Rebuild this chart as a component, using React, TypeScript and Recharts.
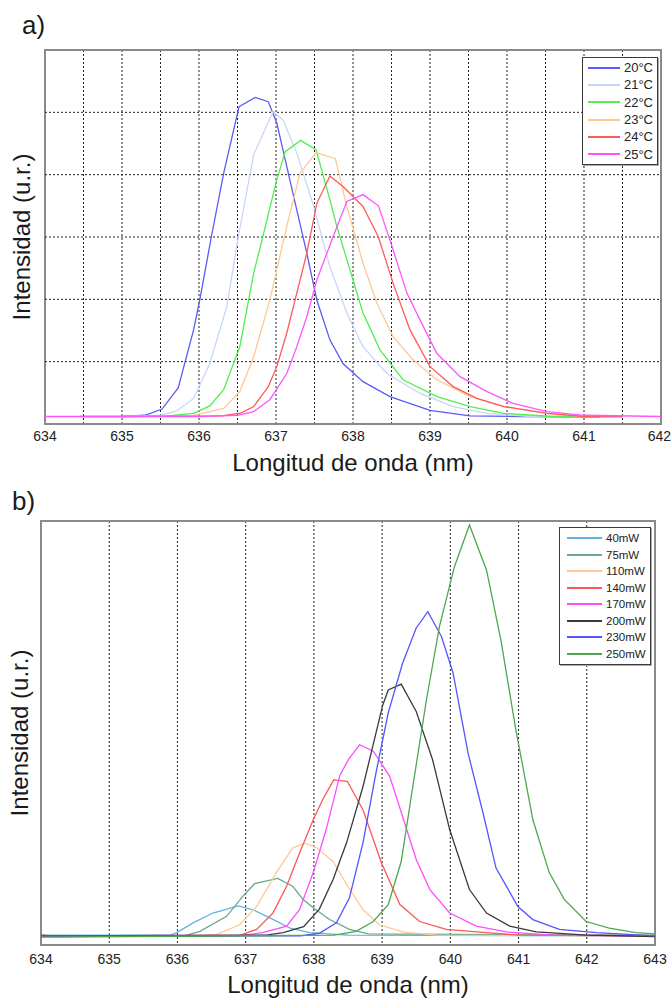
import React from 'react';
import { LineChart, Line, XAxis, YAxis, CartesianGrid, Legend, ReferenceArea, ReferenceLine } from 'recharts';

type P = { x: number; y: number };
const pts = (a: number[][]): P[] => a.map(([x, y]) => ({ x, y }));

// ---------- Panel a: temperature series (wavelength nm, intensity a.u.) ----------
const tempNames = ['20°C', '21°C', '22°C', '23°C', '24°C', '25°C'];
const tempColors = ['#5b5bf5', '#c6d6fa', '#50ee50', '#ffc895', '#ff5a5a', '#ff55ff'];

const t20 = pts([[634.45,0.12],[635.0,0.12],[635.3,0.14],[635.52,0.24],[635.73,0.58],[635.82,1.0],[635.93,1.51],[636.01,1.99],[636.16,3.0],[636.32,4.02],[636.52,5.09],[636.73,5.24],[636.9,5.17],[637.01,4.83],[637.22,3.7],[637.4,2.74],[637.53,1.99],[637.7,1.35],[637.87,0.97],[638.13,0.68],[638.48,0.44],[639.0,0.22],[639.52,0.13],[640.2,0.12],[641.2,0.11]]);
const t21 = pts([[635.0,0.12],[635.5,0.14],[635.71,0.21],[635.93,0.41],[636.14,0.97],[636.36,1.88],[636.51,3.0],[636.71,4.32],[636.96,5.01],[637.09,4.88],[637.27,4.35],[637.49,3.49],[637.7,2.52],[637.92,1.78],[638.13,1.24],[638.44,0.81],[638.87,0.49],[639.3,0.28],[639.74,0.17],[640.3,0.12],[641.5,0.12]]);
const t22 = pts([[635.0,0.12],[635.6,0.13],[635.93,0.17],[636.14,0.29],[636.32,0.55],[636.53,1.24],[636.71,2.42],[636.84,3.06],[637.01,3.92],[637.12,4.37],[637.32,4.55],[637.52,4.4],[637.7,3.6],[637.79,3.17],[638.0,2.31],[638.13,1.78],[638.35,1.19],[638.65,0.71],[639.09,0.44],[639.52,0.28],[639.96,0.17],[640.6,0.12],[641.5,0.12]]);
const t23 = pts([[635.0,0.12],[635.9,0.13],[636.32,0.25],[636.53,0.52],[636.71,1.08],[636.92,1.99],[637.14,3.17],[637.31,4.02],[637.52,4.35],[637.77,4.26],[637.92,3.49],[638.13,2.58],[638.31,1.94],[638.52,1.4],[638.78,1.03],[639.09,0.71],[639.52,0.44],[639.96,0.28],[640.52,0.17],[641.0,0.12],[641.5,0.12]]);
const t24 = pts([[635.0,0.12],[636.3,0.13],[636.55,0.18],[636.71,0.28],[636.9,0.6],[637.01,0.92],[637.14,1.46],[637.27,2.1],[637.4,2.74],[637.53,3.54],[637.7,3.98],[637.87,3.81],[638.13,3.49],[638.33,3.0],[638.52,2.26],[638.74,1.51],[639.0,0.92],[639.3,0.6],[639.61,0.41],[639.96,0.28],[640.52,0.17],[641.0,0.12],[641.5,0.12]]);
const t25 = pts([[634.0,0.12],[636.0,0.12],[636.5,0.14],[636.71,0.2],[636.92,0.39],[637.14,0.81],[637.27,1.24],[637.4,1.72],[637.53,2.31],[637.74,3.0],[637.92,3.57],[638.13,3.68],[638.33,3.5],[638.48,2.95],[638.7,2.1],[638.87,1.67],[639.09,1.13],[639.39,0.76],[639.74,0.52],[640.08,0.33],[640.52,0.2],[641.0,0.14],[642.0,0.12]]);
const tempSeries = [t20, t21, t22, t23, t24, t25];

const xTicksA = [634, 634.5, 635, 635.5, 636, 636.5, 637, 637.5, 638, 638.5, 639, 639.5, 640, 640.5, 641, 641.5, 642];
const xLabelsA = ['634', '635', '636', '637', '638', '639', '640', '641', '642'];
const yTicksA = [0, 1, 2, 3, 4, 5, 6];
const yGridA = [1, 2, 3, 4, 5];

// ---------- Panel b: pump power series ----------
const powNames = ['40mW', '75mW', '110mW', '140mW', '170mW', '200mW', '230mW', '250mW'];
const powColors = ['#63b3e0', '#67a88e', '#ffc896', '#ff5555', '#ff4cff', '#3a3a3a', '#5555ff', '#4ea84e'];

const p40 = pts([[634,0.15],[635.9,0.15],[635.99,0.19],[636.23,0.34],[636.52,0.49],[636.89,0.6],[637.11,0.54],[637.35,0.42],[637.65,0.26],[637.94,0.19],[638.5,0.15],[643,0.14]]);
const p75 = pts([[634,0.13],[636.1,0.14],[636.33,0.21],[636.72,0.44],[636.96,0.75],[637.13,0.94],[637.47,1.02],[637.69,0.9],[637.84,0.7],[637.99,0.57],[638.23,0.39],[638.52,0.24],[638.8,0.17],[643,0.15]]);
const p110 = pts([[634,0.14],[636.3,0.14],[636.57,0.16],[636.91,0.31],[637.16,0.59],[637.45,1.11],[637.69,1.49],[637.87,1.56],[638.04,1.49],[638.28,1.28],[638.48,0.93],[638.72,0.54],[638.96,0.31],[639.3,0.2],[639.8,0.15],[643,0.14]]);
const p140 = pts([[634,0.16],[634.2,0.13],[636.9,0.14],[637.16,0.24],[637.4,0.49],[637.6,0.9],[637.79,1.41],[637.99,1.92],[638.13,2.23],[638.29,2.53],[638.49,2.51],[638.72,2.07],[638.99,1.26],[639.26,0.62],[639.55,0.36],[639.94,0.24],[640.53,0.19],[641.0,0.15],[643,0.14]]);
const p170 = pts([[634,0.14],[637.0,0.15],[637.25,0.19],[637.6,0.29],[637.79,0.54],[637.99,1.11],[638.18,1.77],[638.38,2.6],[638.51,2.85],[638.67,3.07],[638.87,2.97],[639.11,2.59],[639.3,1.97],[639.5,1.31],[639.7,0.85],[639.99,0.49],[640.38,0.29],[640.82,0.2],[641.5,0.15],[643,0.14]]);
const p200 = pts([[634,0.14],[637.3,0.15],[637.55,0.19],[637.85,0.28],[638.08,0.55],[638.28,1.0],[638.48,1.57],[638.72,2.43],[639.01,3.68],[639.09,3.91],[639.28,4.0],[639.5,3.58],[639.74,2.84],[639.99,1.77],[640.28,0.85],[640.53,0.49],[640.87,0.29],[641.26,0.2],[642.0,0.15],[643,0.13]]);
const p230 = pts([[634,0.14],[637.8,0.14],[638.08,0.18],[638.33,0.34],[638.52,0.72],[638.72,1.57],[638.91,2.64],[639.09,3.56],[639.3,4.32],[639.5,4.86],[639.67,5.11],[639.87,4.73],[640.04,4.17],[640.26,2.94],[640.48,2.02],[640.67,1.18],[640.99,0.59],[641.21,0.39],[641.6,0.24],[642.14,0.19],[643,0.14]]);
const p250 = pts([[634,0.12],[638.3,0.15],[638.62,0.21],[638.87,0.36],[639.09,0.62],[639.28,1.28],[639.45,2.43],[639.65,3.76],[639.84,4.88],[640.06,5.8],[640.28,6.44],[640.53,5.75],[640.74,4.68],[640.96,3.3],[641.21,1.92],[641.45,1.11],[641.67,0.7],[641.99,0.36],[642.33,0.26],[642.72,0.19],[643,0.17]]);
const powSeries = [p40, p75, p110, p140, p170, p200, p230, p250];

const xTicksB = [634, 635, 636, 637, 638, 639, 640, 641, 642, 643];
const yTicksB = [1, 2, 3, 4, 5, 6];

const FONT = "'Liberation Sans', Arial, sans-serif";

const EmptyTick = () => <g />;

// x tick label for panel a: only integer labels, last one kept inside the page
const TickA = (props: any) => {
  const { x, y, payload } = props;
  const label = String(payload.value);
  if (!xLabelsA.includes(label)) return <g />;
  const last = payload.value === xTicksA[xTicksA.length - 1];
  return (
    <text
      x={last ? x + 10 : x}
      y={y}
      dy="0.71em"
      textAnchor={last ? 'end' : 'middle'}
      fontSize={14}
      fill="#222"
      fontFamily={FONT}
    >
      {label}
    </text>
  );
};

const makeLegend = (order: string[], lineW: number, fontSize: number, rowH: number, padL: number, padT: number) =>
  (props: any) => {
    const payload = [...(props.payload || [])].sort(
      (a: any, b: any) => order.indexOf(String(a.value)) - order.indexOf(String(b.value))
    );
    return (
      <div
        style={{
          border: '1px solid #3a3a3a',
          boxShadow: '1px 1px 0 #aaa',
          background: '#fff',
          padding: `${padT}px 4px ${padT}px ${padL}px`,
          fontFamily: FONT,
          fontSize,
          color: '#222',
        }}
      >
        {payload.map((p: any, i: number) => (
          <div key={i} style={{ display: 'flex', alignItems: 'center', height: rowH, whiteSpace: 'nowrap' }}>
            <span style={{ display: 'inline-block', width: lineW, height: 2, background: p.color, marginRight: 4 }} />
            <span>{p.value}</span>
          </div>
        ))}
      </div>
    );
  };

const LegendA = makeLegend(tempNames, 32, 13, 17.3, 5, 1);
const LegendB = makeLegend(powNames, 35, 11.5, 16.5, 7, 2);

const absText = (style: React.CSSProperties): React.CSSProperties => ({
  position: 'absolute',
  fontFamily: FONT,
  color: '#1a1a1a',
  lineHeight: 1,
  whiteSpace: 'nowrap',
  ...style,
});

export default function App() {
  return (
    <div style={{ position: 'absolute', left: 0, top: 0, width: 671, height: 998, background: '#fff' }}>
      {/* Panel a */}
      <div style={{ position: 'absolute', left: 0, top: 0 }}>
        <LineChart width={671} height={480} margin={{ top: 50, right: 10, bottom: 26, left: 45 }}>
          <CartesianGrid stroke="#222" strokeDasharray="2 2" strokeWidth={1} horizontal={false} />
          {yGridA.map((v) => (
            <ReferenceLine key={v} y={v} stroke="#222" strokeDasharray="2 2" strokeWidth={1} />
          ))}
          <XAxis
            type="number"
            dataKey="x"
            domain={[634, 642]}
            ticks={xTicksA}
            allowDataOverflow
            interval={0}
            height={30}
            tickLine={false}
            tickSize={6}
            tickMargin={1}
            axisLine={{ stroke: '#8a8a8a', strokeWidth: 2 }}
            tick={TickA}
          />
          <YAxis
            type="number"
            domain={[0, 6]}
            ticks={yTicksA}
            width={0}
            tick={EmptyTick}
            tickLine={false}
            axisLine={{ stroke: '#8a8a8a', strokeWidth: 2 }}
            allowDataOverflow
          />
          <YAxis
            yAxisId="r"
            orientation="right"
            type="number"
            domain={[0, 6]}
            ticks={yGridA}
            width={0}
            mirror
            tick={EmptyTick}
            tickSize={5}
            tickLine={{ stroke: '#333' }}
            axisLine={false}
          />
          <ReferenceArea x1={634} x2={642} y1={0} y2={6} fill="none" stroke="#8a8a8a" strokeWidth={2} />
          {tempSeries.map((s, i) => (
            <Line
              key={tempNames[i]}
              data={s}
              dataKey="y"
              name={tempNames[i]}
              type="linear"
              stroke={tempColors[i]}
              strokeWidth={1.3}
              dot={false}
              activeDot={false}
              isAnimationActive={false}
            />
          ))}
          <Legend
            layout="vertical"
            align="center"
            verticalAlign="middle"
            content={LegendA}
            wrapperStyle={{ left: 582, top: 57, width: 76 }}
          />
        </LineChart>
      </div>

      {/* Panel b */}
      <div style={{ position: 'absolute', left: 0, top: 480 }}>
        <LineChart width={671} height={518} margin={{ top: 41, right: 16, bottom: 23, left: 41 }}>
          <CartesianGrid stroke="#222" strokeDasharray="2 2" strokeWidth={1} horizontal={false} />
          <XAxis
            type="number"
            dataKey="x"
            domain={[634, 643]}
            ticks={xTicksB}
            allowDataOverflow
            interval={0}
            height={30}
            tickLine={false}
            tickSize={6}
            tickMargin={3}
            axisLine={{ stroke: '#8a8a8a', strokeWidth: 2 }}
            tick={{ fontSize: 14, fill: '#222', fontFamily: FONT }}
          />
          <YAxis
            type="number"
            domain={[0, 6.5]}
            ticks={yTicksB}
            width={0}
            mirror
            tick={EmptyTick}
            tickSize={5}
            tickLine={{ stroke: '#444' }}
            axisLine={{ stroke: '#8a8a8a', strokeWidth: 2 }}
            allowDataOverflow
          />
          <YAxis
            yAxisId="r"
            orientation="right"
            type="number"
            domain={[0, 6.5]}
            ticks={yTicksB}
            width={0}
            mirror
            tick={EmptyTick}
            tickSize={5}
            tickLine={{ stroke: '#444' }}
            axisLine={false}
          />
          <ReferenceArea x1={634} x2={643} y1={0} y2={6.5} fill="none" stroke="#8a8a8a" strokeWidth={2} />
          {powSeries.map((s, i) => (
            <Line
              key={powNames[i]}
              data={s}
              dataKey="y"
              name={powNames[i]}
              type="linear"
              stroke={powColors[i]}
              strokeWidth={1.3}
              dot={false}
              activeDot={false}
              isAnimationActive={false}
            />
          ))}
          <Legend
            layout="vertical"
            align="center"
            verticalAlign="middle"
            content={LegendB}
            wrapperStyle={{ left: 559, top: 47, width: 92 }}
          />
        </LineChart>
      </div>

      {/* Titles and axis labels */}
      <div style={absText({ left: 22, top: 12, fontSize: 26 })}>a)</div>
      <div style={absText({ left: 12, top: 488, fontSize: 26 })}>b)</div>
      <div style={absText({ left: 22, top: 237, fontSize: 24, transform: 'translate(-50%, -50%) rotate(-90deg)' })}>
        Intensidad (u.r.)
      </div>
      <div style={absText({ left: 20, top: 733, fontSize: 24, transform: 'translate(-50%, -50%) rotate(-90deg)' })}>
        Intensidad (u.r.)
      </div>
      <div style={absText({ left: 353, top: 451, fontSize: 24, transform: 'translateX(-50%)' })}>
        Longitud de onda (nm)
      </div>
      <div style={absText({ left: 348, top: 973, fontSize: 24, transform: 'translateX(-50%)' })}>
        Longitud de onda (nm)
      </div>
    </div>
  );
}
